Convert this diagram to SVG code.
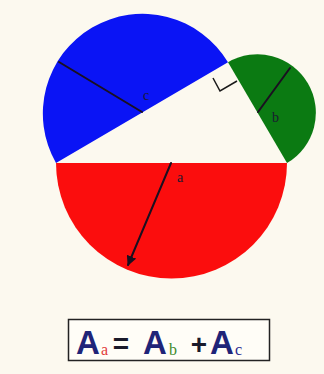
<svg xmlns="http://www.w3.org/2000/svg" width="324" height="374" viewBox="0 0 324 374">
<defs>
<style>
.rad{stroke:#1a1020;stroke-width:2;fill:none;stroke-linecap:round}
.lbl{font-family:"Liberation Serif","DejaVu Serif",serif;font-size:14px;fill:#1a1a30}
.big{font-family:"Liberation Sans",Arial,sans-serif;font-weight:bold;font-size:33px;fill:#1f2478}
.op{font-family:"Liberation Sans",Arial,sans-serif;font-weight:bold;font-size:28px;fill:#1a1a2a;text-anchor:middle}
.sub{font-family:"Liberation Serif","DejaVu Serif",serif;font-size:16px}
</style>
<marker id="arr" viewBox="0 0 10 10" refX="9" refY="5" markerWidth="5" markerHeight="5" orient="auto" markerUnits="strokeWidth">
<path d="M0,0 L10,5 L0,10 z" fill="#1a1020"/>
</marker>
</defs>
<rect width="324" height="374" fill="#fcf9ef"/>
<g id="red-semicircle">
<path d="M56,163 A115.5,115.5 0 0 0 287,163 Z" fill="#fb0d0d"/>
</g>
<g id="blue-semicircle">
<path d="M56,163 A99.66,99.66 0 0 1 228,62.3 Z" fill="#0a14f5"/>
</g>
<g id="green-semicircle">
<path d="M228,62.3 A58.35,58.35 0 0 1 287,163 Z" fill="#0b7a12"/>
</g>
<g id="right-angle">
<polyline points="213,78 220,91 237,81" fill="none" stroke="#1a1a1a" stroke-width="1.5"/>
</g>
<g id="connectors">
<line class="rad" x1="59" y1="62" x2="142" y2="112"/>
<line class="rad" x1="290" y1="68" x2="258" y2="112"/>
<line class="rad" x1="171" y1="163" x2="128" y2="265" marker-end="url(#arr)"/>
</g>
<g id="labels">
<text class="lbl" x="143" y="100">c</text>
<text class="lbl" x="272" y="122">b</text>
<text class="lbl" x="177" y="182">a</text>
</g>
<g id="formula">
<rect x="68.5" y="319.5" width="201" height="41" fill="#fffdf7" stroke="#222" stroke-width="1.5"/>
<text class="big" x="76" y="354">A</text>
<text class="sub" x="101" y="355" fill="#e23b3b">a</text>
<text class="op" x="121" y="353">=</text>
<text class="big" x="143" y="354">A</text>
<text class="sub" x="169" y="355" fill="#3a8a2a">b</text>
<text class="op" x="199" y="354">+</text>
<text class="big" x="210" y="354">A</text>
<text class="sub" x="235" y="355" fill="#2a2a90">c</text>
</g>
</svg>
